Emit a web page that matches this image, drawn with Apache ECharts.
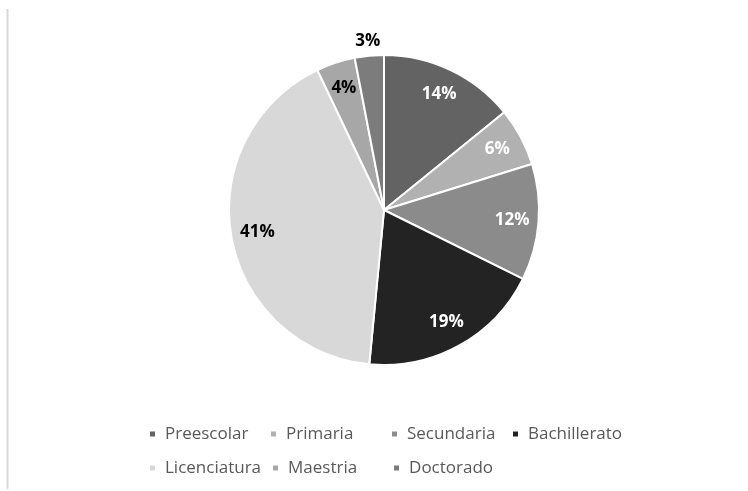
<!DOCTYPE html>
<html><head><meta charset="utf-8">
<script src="https://cdn.jsdelivr.net/npm/echarts@6/dist/echarts.min.js"></script>
<style>html,body{margin:0;padding:0;background:#fff}#c{width:748px;height:491px}</style>
</head><body><div id="c"></div>
<script>
const categories = ['Preescolar','Primaria','Secundaria','Bachillerato','Licenciatura','Maestria','Doctorado'];
const values = [14, 6, 12, 19, 41, 4, 3];
const colors = ['#636363','#b1b1b1','#8b8b8b','#232323','#d8d8d8','#a7a7a7','#7c7c7c'];
const labelColors = ['#ffffff','#ffffff','#ffffff','#ffffff','#000000','#000000','#000000'];
const outsideLabel = [false,false,false,false,false,false,true];

const chart = echarts.init(document.getElementById('c'));
const font = '"Open Sans", "Segoe UI", sans-serif';
const center = [384, 210];
const R = 155;

const mainData = categories.map((n,i)=>({name:n, value:values[i], itemStyle:{color:colors[i]}}));
const labelData = (showOutside) => categories.map((n,i)=>({
  name:n, value:values[i],
  label:{show: outsideLabel[i] === showOutside, color: labelColors[i]}
}));
const labelCommon = {
  position:'inside', fontFamily: font, fontSize: 17, fontWeight:'bold',
  formatter: p => p.value + '%'
};

chart.setOption({
  animation:false,
  backgroundColor:'#fff',
  graphic:[{type:'line', shape:{x1:7.5,y1:9,x2:7.5,y2:489}, style:{stroke:'#d9d9d9', lineWidth:2}}],
  legend:{
    data: categories,
    left: 143, top: 417, width: 490,
    orient:'horizontal',
    icon:'rect', itemWidth:7, itemHeight:7, itemGap:10,
    selectedMode:false,
    textStyle:{fontFamily:font, fontSize:17, color:'#595959', width:94, height:24, lineHeight:24, padding:[0,0,0,4]}
  },
  series:[
    {
      type:'pie', center:center, radius:[0,R], startAngle:90, clockwise:true,
      data: mainData, label:{show:false}, labelLine:{show:false},
      itemStyle:{borderColor:'#fff', borderWidth:2},
      emphasis:{disabled:true}
    },
    {
      type:'pie', center:center, radius:[96,R], startAngle:90, clockwise:true, silent:true,
      data: labelData(false), itemStyle:{color:'transparent'},
      label: labelCommon, labelLine:{show:false}, emphasis:{disabled:true}, legendHoverLink:false
    },
    {
      type:'pie', center:center, radius:[R,179], startAngle:90, clockwise:true, silent:true,
      data: labelData(true), itemStyle:{color:'transparent'},
      label: labelCommon, labelLine:{show:false}, emphasis:{disabled:true}, legendHoverLink:false
    }
  ]
});
</script></body></html>
